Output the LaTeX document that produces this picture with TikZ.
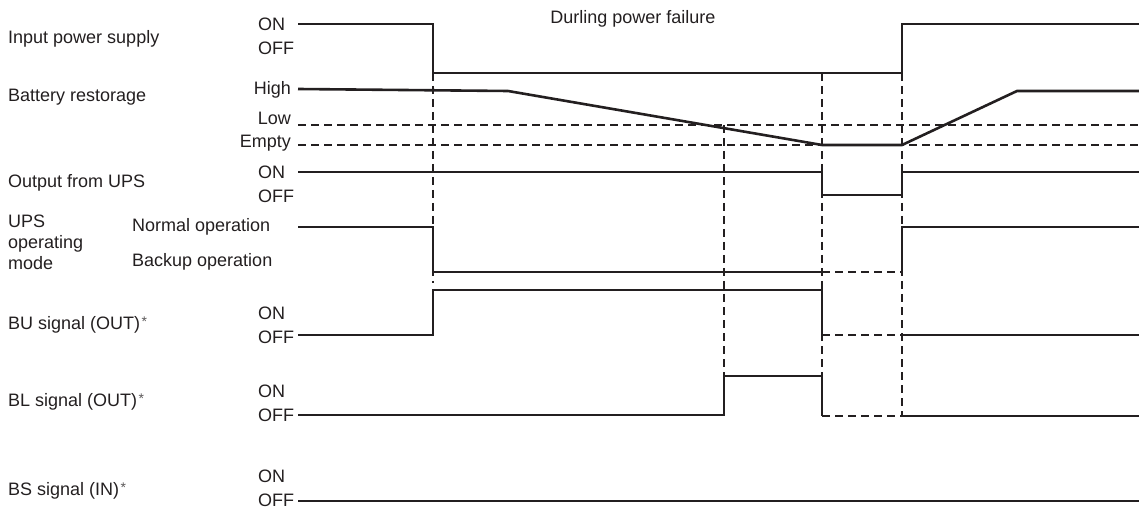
\documentclass[tikz,border=0pt]{standalone}
\usepackage{fontspec}
\setmainfont{Liberation Sans}
\definecolor{ink}{RGB}{35,31,32}
\newcommand{\smallast}{\hspace{1.5pt}\raisebox{2.8pt}{\fontsize{14}{14}\selectfont\color{ink!75}*}}
\tikzset{
  lbl/.style={inner sep=0pt, anchor=base west, font=\fontsize{18}{21}\selectfont, text=ink},
  lblr/.style={lbl, anchor=base east},
  lblc/.style={lbl, anchor=base},
  sig/.style={draw=ink, line width=2.6pt, line join=miter},
  thinsig/.style={draw=ink, line width=1.4pt},
  guide/.style={draw=ink, line width=1.4pt, dash pattern=on 8pt off 5pt},
  boldguide/.style={draw=ink, line width=2.6pt, dash pattern=on 8pt off 5pt},
}
\begin{document}
\begin{tikzpicture}[x=1pt,y=-1pt]
\useasboundingbox (0,0) rectangle (1139,510);

% vertical guides
\draw[guide] (433,73) -- (433,283);
\draw[guide] (724,125) -- (724,376);
\draw[guide] (822,73) -- (822,416);
\draw[guide] (902,73) -- (902,416);

% level guides
\draw[guide] (298,125) -- (1139,125);
\draw[guide] (298,145) -- (1139,145);

% input power supply
\draw[sig] (298,24) -- (433,24) -- (433,73) -- (902,73) -- (902,24) -- (1139,24);
% battery
\draw[sig] (298,89) -- (508,91) -- (822,145) -- (902,145) -- (1017,91) -- (1139,91);
% output from UPS
\draw[thinsig] (298,172) -- (822,172) -- (822,195) -- (902,195) -- (902,172) -- (1139,172);
% UPS operating mode
\draw[sig] (298,227) -- (433,227) -- (433,272) -- (822,272);
\draw[guide] (822,272) -- (902,272);
\draw[sig] (902,272) -- (902,227) -- (1139,227);
% BU
\draw[sig] (298,335) -- (433,335) -- (433,290) -- (822,290) -- (822,335);
\draw[guide] (822,335) -- (902,335);
\draw[sig] (902,335) -- (1139,335);
% BL
\draw[sig] (298,415) -- (724,415) -- (724,376) -- (822,376) -- (822,416);
\draw[boldguide] (822,416) -- (902,416);
\draw[sig] (902,416) -- (1139,416);
% BS
\draw[thinsig] (298,501) -- (1139,501);

% row labels
\node[lbl] (tIn) at (8,44) {Input power supply};
\node[lbl] (tBat) at (8,102) {Battery restorage};
\node[lbl] (tOut) at (8,188) {Output from UPS};
\node[lbl] (tUps1) at (8,228) {UPS};
\node[lbl] (tUps2) at (8,249) {operating};
\node[lbl] (tUps3) at (8,270) {mode};
\node[lbl] (tBU) at (8,329) {BU signal (OUT)\smallast};
\node[lbl] (tBL) at (8,406) {BL signal (OUT)\smallast};
\node[lbl] (tBS) at (8,495) {BS signal (IN)\smallast};

% level labels
\node[lbl] (inOn) at (258,31) {ON};
\node[lbl] (inOff) at (258,54.5) {OFF};
\node[lblr] (bHigh) at (291,95) {High};
\node[lblr] (bLow) at (291,125) {Low};
\node[lblr] (bEmpty) at (291,148) {Empty};
\node[lbl] (oOn) at (258,179) {ON};
\node[lbl] (oOff) at (258,203) {OFF};
\node[lbl] (mNorm) at (132,232) {Normal operation};
\node[lbl] (mBack) at (132,267) {Backup operation};
\node[lbl] (buOn) at (258,319) {ON};
\node[lbl] (buOff) at (258,343) {OFF};
\node[lbl] (blOn) at (258,397) {ON};
\node[lbl] (blOff) at (258,421) {OFF};
\node[lbl] (bsOn) at (258,482) {ON};
\node[lbl] (bsOff) at (258,506) {OFF};

\node[lblc] (fail) at (633,24) {Durling power failure};
\end{tikzpicture}
\end{document}
